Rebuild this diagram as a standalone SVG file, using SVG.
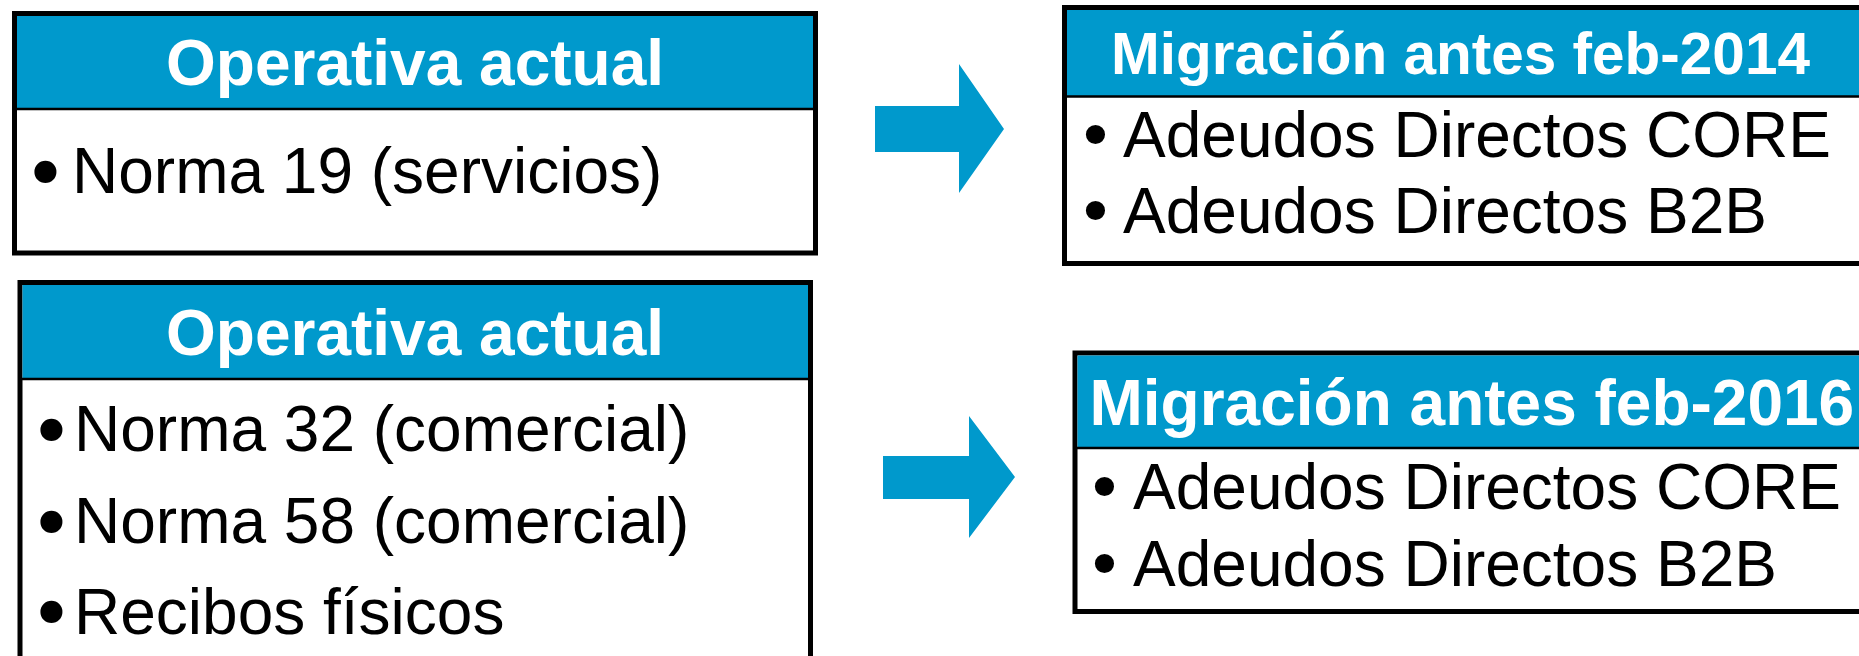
<svg xmlns="http://www.w3.org/2000/svg" width="1859" height="656" viewBox="0 0 1859 656">
<style>
.box{fill:#ffffff;stroke:#000000;stroke-width:5}
.hdr{fill:#0099cc}
.sep{stroke:#000000;stroke-width:2.5}
.ht{font-family:"Liberation Sans",Arial,sans-serif;font-weight:bold;fill:#ffffff}
.bt{font-family:"Liberation Sans",Arial,sans-serif;fill:#000000;font-size:64px}
.bl{font-family:"DejaVu Sans",sans-serif;font-size:76px}
.bs{font-family:"DejaVu Sans",sans-serif;font-size:66px}
.arrow{fill:#0099cc}
</style>
<rect width="1859" height="656" fill="#ffffff"/>
<g id="connectors">
<polygon class="arrow" points="875,106 959,106 959,64 1004,129 959,193 959,152 875,152"/>
<polygon class="arrow" points="883,456 969,456 969,416 1015,477 969,538 969,499 883,499"/>
</g>
<g id="node-operativa-1">
<rect class="box" x="14.5" y="13.5" width="801" height="239.5"/>
<rect class="hdr" x="17" y="16" width="796" height="92"/>
<line class="sep" x1="14.5" y1="109" x2="815.5" y2="109"/>
<text class="ht" x="415" y="85" font-size="64" text-anchor="middle">Operativa actual</text>
<text class="bt"><tspan class="bl" x="23" y="200">•</tspan><tspan x="72" y="193">Norma 19 (servicios)</tspan></text>
</g>
<g id="node-operativa-2">
<rect class="box" x="20" y="282.5" width="790.5" height="400"/>
<rect class="hdr" x="22.5" y="285" width="785.5" height="93"/>
<line class="sep" x1="20" y1="379" x2="810.5" y2="379"/>
<text class="ht" x="415" y="355" font-size="64" text-anchor="middle">Operativa actual</text>
<text class="bt"><tspan class="bl" x="29" y="458">•</tspan><tspan x="74" y="451">Norma 32 (comercial)</tspan></text>
<text class="bt"><tspan class="bl" x="29" y="550">•</tspan><tspan x="74" y="543">Norma 58 (comercial)</tspan></text>
<text class="bt"><tspan class="bl" x="29" y="640">•</tspan><tspan x="74" y="634">Recibos físicos</tspan></text>
</g>
<g id="node-migracion-2014">
<rect class="box" x="1064.5" y="7.5" width="820" height="256"/>
<rect class="hdr" x="1067" y="10" width="815" height="86"/>
<line class="sep" x1="1064.5" y1="96.5" x2="1884.5" y2="96.5"/>
<text class="ht" x="1111" y="74" font-size="58.5">Migración antes feb-2014</text>
<text class="bt"><tspan class="bs" x="1076" y="159">•</tspan><tspan x="1123" y="157">Adeudos Directos CORE</tspan></text>
<text class="bt"><tspan class="bs" x="1076" y="235">•</tspan><tspan x="1123" y="233">Adeudos Directos B2B</tspan></text>
</g>
<g id="node-migracion-2016">
<rect class="box" x="1075" y="353" width="820" height="258.5"/>
<rect class="hdr" x="1077.5" y="355.5" width="815" height="92"/>
<line class="sep" x1="1075" y1="448" x2="1895" y2="448"/>
<text class="ht" x="1089.5" y="425" font-size="64">Migración antes feb-2016</text>
<text class="bt"><tspan class="bs" x="1085" y="511">•</tspan><tspan x="1133" y="509">Adeudos Directos CORE</tspan></text>
<text class="bt"><tspan class="bs" x="1085" y="588">•</tspan><tspan x="1133" y="586">Adeudos Directos B2B</tspan></text>
</g>
</svg>
